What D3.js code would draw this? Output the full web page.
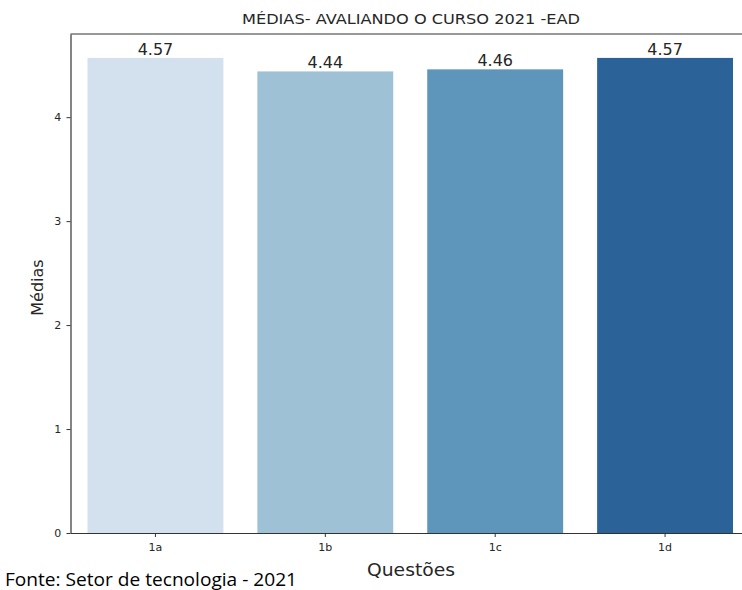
<!DOCTYPE html>
<html>
<head>
<meta charset="utf-8">
<script src="https://cdn.jsdelivr.net/npm/d3@7"></script>
<style>
  body { margin: 0; background: #fff; }
  svg { display: block; font-family: "DejaVu Sans", sans-serif; }
</style>
</head>
<body>
<svg id="chart" width="742" height="590"></svg>
<script>
var questoes = ["1a", "1b", "1c", "1d"];
var medias = [4.57, 4.44, 4.46, 4.57];
var cores = ["#d3e1ef", "#9ec1d5", "#5e96bb", "#2b6399"];
var yTicks = [0, 1, 2, 3, 4];

var svg = d3.select("#chart");

// axes box (right side of the figure is cut off)
var m = { left: 70.5, right: 750, top: 34, bottom: 533 };

var x = d3.scaleBand().domain(questoes).range([m.left, m.right]).paddingInner(0.2).paddingOuter(0.1);
var y = d3.scaleLinear().domain([0, 4.8]).range([m.bottom, m.top]);

// bars
svg.selectAll("rect.bar")
    .data(questoes)
  .enter().append("rect")
    .attr("class", "bar")
    .attr("x", function(d) { return x(d); })
    .attr("width", x.bandwidth())
    .attr("y", function(d, i) { return y(medias[i]); })
    .attr("height", function(d, i) { return m.bottom - y(medias[i]); })
    .attr("fill", function(d, i) { return cores[i]; });

// value labels
svg.selectAll("text.val")
    .data(questoes)
  .enter().append("text")
    .attr("class", "val")
    .attr("x", function(d) { return x(d) + x.bandwidth() / 2; })
    .attr("y", function(d, i) { return y(medias[i]) - 3; })
    .attr("text-anchor", "middle")
    .attr("font-size", 16)
    .attr("fill", "#262626")
    .text(function(d, i) { return medias[i].toFixed(2); });

// axes
var xAxis = svg.append("g")
    .attr("transform", "translate(0," + m.bottom + ")")
    .call(d3.axisBottom(x).tickSize(4).tickSizeOuter(0));
var yAxis = svg.append("g")
    .attr("transform", "translate(" + m.left + ",0)")
    .call(d3.axisLeft(y).tickValues(yTicks).tickFormat(d3.format("d")).tickSize(4).tickSizeOuter(0));

[xAxis, yAxis].forEach(function(ax) {
  ax.attr("font-family", "DejaVu Sans").attr("font-size", 11);
  ax.select(".domain").attr("stroke", "#333").attr("stroke-width", 1.2);
  ax.selectAll(".tick line").attr("stroke", "#333");
  ax.selectAll(".tick text").attr("fill", "#262626");
});
xAxis.selectAll(".tick text").attr("dy", "1.0em");
yAxis.selectAll(".tick text").attr("dx", "-0.2em");

// top spine
svg.append("line")
    .attr("x1", m.left).attr("x2", m.right)
    .attr("y1", m.top).attr("y2", m.top)
    .attr("stroke", "#333").attr("stroke-width", 1.2);

// title
svg.append("text")
    .attr("x", 411).attr("y", 24)
    .attr("text-anchor", "middle")
    .attr("font-size", 14)
    .attr("fill", "#262626")
    .attr("textLength", 338)
    .attr("lengthAdjust", "spacingAndGlyphs")
    .text("MÉDIAS- AVALIANDO O CURSO 2021 -EAD");

// axis labels
svg.append("text")
    .attr("x", 411).attr("y", 576)
    .attr("text-anchor", "middle")
    .attr("font-size", 17)
    .attr("fill", "#262626")
    .attr("textLength", 88)
    .attr("lengthAdjust", "spacingAndGlyphs")
    .text("Questões");

svg.append("text")
    .attr("transform", "translate(43," + ((m.top + m.bottom) / 2 + 4) + ") rotate(-90)")
    .attr("text-anchor", "middle")
    .attr("font-size", 16)
    .attr("fill", "#262626")
    .text("Médias");

// source note
svg.append("text")
    .attr("x", 5).attr("y", 586)
    .attr("font-family", "Open Sans, sans-serif")
    .attr("font-size", 18)
    .attr("fill", "#000")
    .attr("textLength", 292)
    .attr("lengthAdjust", "spacingAndGlyphs")
    .text("Fonte: Setor de tecnologia - 2021");
</script>
</body>
</html>
